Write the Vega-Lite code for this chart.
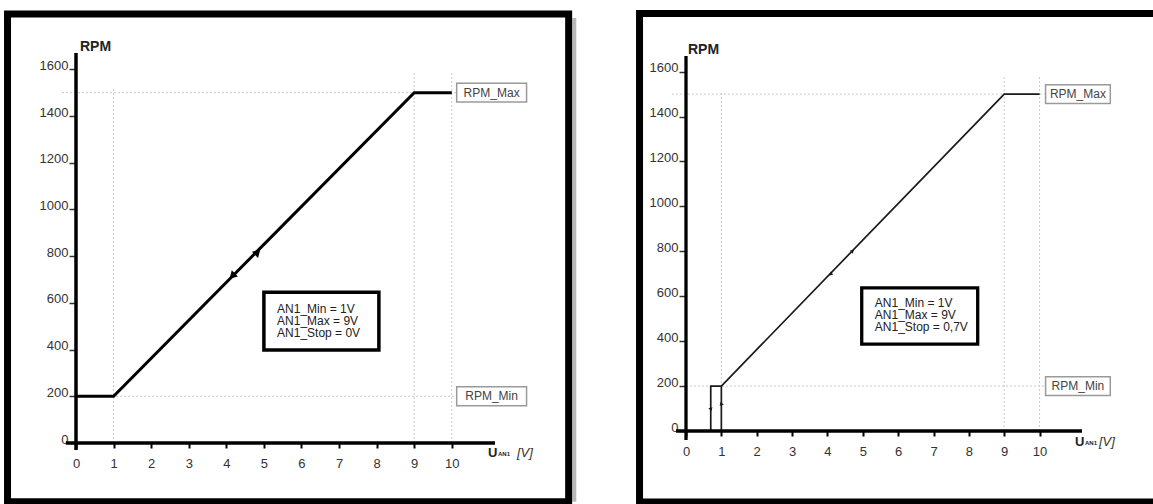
{
  "$schema": "https://vega.github.io/schema/vega-lite/v6.json",
  "background": "white",
  "padding": {"left": 4, "top": 9, "right": 0, "bottom": 0},
  "spacing": 59,
  "config": {
    "view": {"stroke": null},
    "font": "Liberation Sans",
    "axis": {"grid": false, "domain": false, "zindex": 1, "labelFont": "Liberation Sans", "labelFontSize": 13, "labelColor": "#333", "titleOpacity": 0, "labelOverlap": false, "labelFlush": false},
    "axisX": {"tickSize": 5, "tickWidth": 2, "tickColor": "black", "labelPadding": 9},
    "axisY": {"tickSize": 7, "tickWidth": 1.5, "tickColor": "#333", "labelBaseline": "alphabetic", "labelPadding": 1}
  },
  "datasets": {
    "one": [{"k": 1}],
    "curve": [
      {"panel": "L", "seg": "a", "i": 0, "v": 0, "rpm": 200},
      {"panel": "L", "seg": "a", "i": 1, "v": 1, "rpm": 200},
      {"panel": "L", "seg": "a", "i": 2, "v": 9, "rpm": 1500},
      {"panel": "L", "seg": "a", "i": 3, "v": 10, "rpm": 1500},
      {"panel": "R", "seg": "a", "i": 0, "v": 0.7, "rpm": 0},
      {"panel": "R", "seg": "a", "i": 1, "v": 0.7, "rpm": 200},
      {"panel": "R", "seg": "a", "i": 2, "v": 1, "rpm": 200},
      {"panel": "R", "seg": "a", "i": 3, "v": 9, "rpm": 1500},
      {"panel": "R", "seg": "a", "i": 4, "v": 10, "rpm": 1500},
      {"panel": "R", "seg": "b", "i": 0, "v": 1, "rpm": 0},
      {"panel": "R", "seg": "b", "i": 1, "v": 1, "rpm": 200}
    ],
    "arrows": [
      {"panel": "L", "v": 4.81, "rpm": 813, "dir": "ur"},
      {"panel": "L", "v": 4.18, "rpm": 719, "dir": "dl"},
      {"panel": "R", "v": 4.7, "rpm": 800, "dir": "ur"},
      {"panel": "R", "v": 4.1, "rpm": 700, "dir": "dl"},
      {"panel": "R", "v": 0.7, "rpm": 98, "dir": "u"},
      {"panel": "R", "v": 1, "rpm": 120, "dir": "d"}
    ],
    "grid": [
      {"panel": "L", "v": 1, "rpm": 0, "v2": 1, "rpm2": 1523},
      {"panel": "L", "v": 9, "rpm": 0, "v2": 9, "rpm2": 1583},
      {"panel": "L", "v": 10, "rpm": 0, "v2": 10, "rpm2": 1583},
      {"panel": "L", "v": -0.37, "rpm": 1500, "v2": 10.15, "rpm2": 1500},
      {"panel": "L", "v": 0, "rpm": 200, "v2": 10.15, "rpm2": 200},
      {"panel": "R", "v": 1, "rpm": 0, "v2": 1, "rpm2": 1514},
      {"panel": "R", "v": 9, "rpm": 0, "v2": 9, "rpm2": 1580},
      {"panel": "R", "v": 10, "rpm": 0, "v2": 10, "rpm2": 1580},
      {"panel": "R", "v": -0.4, "rpm": 1500, "v2": 10.17, "rpm2": 1500},
      {"panel": "R", "v": 0, "rpm": 200, "v2": 10.17, "rpm2": 200}
    ],
    "levels": [
      {"panel": "L", "label": "RPM_Max", "rpm": 1500},
      {"panel": "L", "label": "RPM_Min", "rpm": 200},
      {"panel": "R", "label": "RPM_Max", "rpm": 1500},
      {"panel": "R", "label": "RPM_Min", "rpm": 200}
    ],
    "info": [
      {"panel": "L", "text": "AN1_Min = 1V\nAN1_Max = 9V\nAN1_Stop = 0V"},
      {"panel": "R", "text": "AN1_Min = 1V\nAN1_Max = 9V\nAN1_Stop = 0,7V"}
    ]
  },
  "hconcat": [
    {
      "width": 419,
      "height": 390,
      "layer": [
        {
          "data": {"name": "one"},
          "mark": {"type": "rule", "color": "#9a9a9a", "strokeWidth": 4, "opacity": 0.7, "clip": false},
          "encoding": {
            "x": {"datum": 13.26, "type": "quantitative", "scale": {"domain": [0, 11.15], "nice": false, "zero": false}, "title": null},
            "y": {"datum": -252, "type": "quantitative", "scale": {"domain": [0, 1670], "nice": false, "zero": false}, "title": null},
            "y2": {"datum": 1820}
          }
        },
        {
          "data": {"name": "one"},
          "mark": {"type": "rect", "fillOpacity": 0, "stroke": "black", "strokeWidth": 7, "clip": false},
          "encoding": {
            "x": {"datum": -1.822, "type": "quantitative", "scale": {"domain": [0, 11.15], "nice": false, "zero": false}, "title": null},
            "x2": {"datum": 13.11},
            "y": {"datum": -252, "type": "quantitative", "scale": {"domain": [0, 1670], "nice": false, "zero": false}, "title": null},
            "y2": {"datum": 1837}
          }
        },
        {
          "data": {"name": "grid"},
          "transform": [{"filter": "datum.panel === 'L'"}],
          "mark": {"type": "rule", "color": "#c8c8c8", "strokeWidth": 1, "strokeDash": [2, 2], "clip": false},
          "encoding": {
            "x": {"field": "v", "type": "quantitative", "scale": {"domain": [0, 11.15], "nice": false, "zero": false}, "title": null},
            "x2": {"field": "v2"},
            "y": {"field": "rpm", "type": "quantitative", "scale": {"domain": [0, 1670], "nice": false, "zero": false}, "title": null},
            "y2": {"field": "rpm2"}
          }
        },
        {
          "data": {"name": "curve"},
          "transform": [{"filter": "datum.panel === 'L'"}],
          "mark": {"type": "line", "color": "black", "strokeWidth": 3, "clip": false},
          "encoding": {
            "x": {"field": "v", "type": "quantitative", "scale": {"domain": [0, 11.15], "nice": false, "zero": false}, "title": null,
              "axis": {"values": [0, 1, 2, 3, 4, 5, 6, 7, 8, 9, 10], "tickCount": 12, "format": "d", "labelOverlap": false}},
            "y": {"field": "rpm", "type": "quantitative", "scale": {"domain": [0, 1670], "nice": false, "zero": false}, "title": null,
              "axis": {"values": [0, 200, 400, 600, 800, 1000, 1200, 1400, 1600], "tickCount": 10, "format": "d", "labelOverlap": false}},
            "detail": {"field": "seg"},
            "order": {"field": "i"}
          }
        },
        {
          "data": {"name": "one"},
          "mark": {"type": "rule", "color": "black", "strokeWidth": 3.5, "clip": false},
          "encoding": {
            "x": {"datum": -0.27, "type": "quantitative", "scale": {"domain": [0, 11.15], "nice": false, "zero": false}, "title": null},
            "x2": {"datum": 11.15},
            "y": {"datum": 0, "type": "quantitative", "scale": {"domain": [0, 1670], "nice": false, "zero": false}, "title": null}
          }
        },
        {
          "data": {"name": "one"},
          "mark": {"type": "rule", "color": "black", "strokeWidth": 3.5, "clip": false},
          "encoding": {
            "x": {"datum": 0, "type": "quantitative", "scale": {"domain": [0, 11.15], "nice": false, "zero": false}, "title": null},
            "y": {"datum": -30, "type": "quantitative", "scale": {"domain": [0, 1670], "nice": false, "zero": false}, "title": null},
            "y2": {"datum": 1670}
          }
        },
        {
          "data": {"name": "arrows"},
          "transform": [{"filter": "datum.panel === 'L'"}],
          "mark": {"type": "point", "shape": "triangle", "filled": true, "color": "black", "size": 75, "opacity": 1},
          "encoding": {
            "x": {"field": "v", "type": "quantitative", "scale": {"domain": [0, 11.15], "nice": false, "zero": false}, "title": null},
            "y": {"field": "rpm", "type": "quantitative", "scale": {"domain": [0, 1670], "nice": false, "zero": false}, "title": null},
            "angle": {"field": "dir", "type": "nominal", "scale": {"domain": ["ur", "dl", "u", "d"], "range": [45, 225, 0, 180]}, "legend": null}
          }
        },
        {
          "data": {"name": "one"},
          "mark": {"type": "rect", "fill": "white", "stroke": "#9a9a9a", "strokeWidth": 1.5, "clip": false},
          "encoding": {
            "x": {"datum": 10.13, "type": "quantitative", "scale": {"domain": [0, 11.15], "nice": false, "zero": false}, "title": null},
            "x2": {"datum": 11.99},
            "y": {"datum": 1460, "type": "quantitative", "scale": {"domain": [0, 1670], "nice": false, "zero": false}, "title": null},
            "y2": {"datum": 1541}
          }
        },
        {
          "data": {"name": "one"},
          "mark": {"type": "rect", "fill": "white", "stroke": "#9a9a9a", "strokeWidth": 1.5, "clip": false},
          "encoding": {
            "x": {"datum": 10.13, "type": "quantitative", "scale": {"domain": [0, 11.15], "nice": false, "zero": false}, "title": null},
            "x2": {"datum": 11.99},
            "y": {"datum": 160, "type": "quantitative", "scale": {"domain": [0, 1670], "nice": false, "zero": false}, "title": null},
            "y2": {"datum": 241}
          }
        },
        {
          "data": {"name": "levels"},
          "transform": [{"filter": "datum.panel === 'L'"}],
          "mark": {"type": "text", "fontSize": 12, "color": "#444", "align": "center", "baseline": "middle", "clip": false},
          "encoding": {
            "x": {"datum": 11.06, "type": "quantitative", "scale": {"domain": [0, 11.15], "nice": false, "zero": false}, "title": null},
            "y": {"field": "rpm", "type": "quantitative", "scale": {"domain": [0, 1670], "nice": false, "zero": false}, "title": null},
            "text": {"field": "label"}
          }
        },
        {
          "data": {"name": "one"},
          "mark": {"type": "rect", "fill": "white", "stroke": "black", "strokeWidth": 3.5, "clip": false},
          "encoding": {
            "x": {"datum": 5.0, "type": "quantitative", "scale": {"domain": [0, 11.15], "nice": false, "zero": false}, "title": null},
            "x2": {"datum": 8.06},
            "y": {"datum": 398, "type": "quantitative", "scale": {"domain": [0, 1670], "nice": false, "zero": false}, "title": null},
            "y2": {"datum": 646}
          }
        },
        {
          "data": {"name": "info"},
          "transform": [{"filter": "datum.panel === 'L'"}],
          "mark": {"type": "text", "fontSize": 12, "color": "#222", "align": "left", "baseline": "middle", "lineBreak": "\n", "lineHeight": 12, "clip": false},
          "encoding": {
            "x": {"datum": 5.35, "type": "quantitative", "scale": {"domain": [0, 11.15], "nice": false, "zero": false}, "title": null},
            "y": {"datum": 573, "type": "quantitative", "scale": {"domain": [0, 1670], "nice": false, "zero": false}, "title": null},
            "text": {"field": "text"}
          }
        },
        {
          "data": {"name": "one"},
          "mark": {"type": "text", "text": "RPM", "fontSize": 14, "fontWeight": "bold", "color": "#222", "align": "left", "baseline": "alphabetic", "dx": 4, "dy": -2, "clip": false},
          "encoding": {
            "x": {"datum": 0, "type": "quantitative", "scale": {"domain": [0, 11.15], "nice": false, "zero": false}, "title": null},
            "y": {"datum": 1670, "type": "quantitative", "scale": {"domain": [0, 1670], "nice": false, "zero": false}, "title": null}
          }
        },
        {
          "data": {"name": "one"},
          "mark": {"type": "text", "text": "U", "fontSize": 13, "fontWeight": "bold", "color": "#222", "align": "left", "baseline": "alphabetic", "dx": -7, "dy": 14, "clip": false},
          "encoding": {
            "x": {"datum": 11.15, "type": "quantitative", "scale": {"domain": [0, 11.15], "nice": false, "zero": false}, "title": null},
            "y": {"datum": 0, "type": "quantitative", "scale": {"domain": [0, 1670], "nice": false, "zero": false}, "title": null}
          }
        },
        {
          "data": {"name": "one"},
          "mark": {"type": "text", "text": "AN1", "fontSize": 6, "fontWeight": "bold", "color": "#222", "align": "left", "baseline": "alphabetic", "dx": 3, "dy": 13, "clip": false},
          "encoding": {
            "x": {"datum": 11.15, "type": "quantitative", "scale": {"domain": [0, 11.15], "nice": false, "zero": false}, "title": null},
            "y": {"datum": 0, "type": "quantitative", "scale": {"domain": [0, 1670], "nice": false, "zero": false}, "title": null}
          }
        },
        {
          "data": {"name": "one"},
          "mark": {"type": "text", "text": "[V]", "fontSize": 13, "fontStyle": "italic", "color": "#333", "align": "left", "baseline": "alphabetic", "dx": 22, "dy": 14, "clip": false},
          "encoding": {
            "x": {"datum": 11.15, "type": "quantitative", "scale": {"domain": [0, 11.15], "nice": false, "zero": false}, "title": null},
            "y": {"datum": 0, "type": "quantitative", "scale": {"domain": [0, 1670], "nice": false, "zero": false}, "title": null}
          }
        }
      ]
    },
    {
      "width": 396,
      "height": 378,
      "layer": [
        {
          "data": {"name": "one"},
          "mark": {"type": "rect", "fillOpacity": 0, "stroke": "black", "strokeWidth": 7, "clip": false},
          "encoding": {
            "x": {"datum": -1.314, "type": "quantitative", "scale": {"domain": [0, 11.2], "nice": false, "zero": false}, "title": null},
            "x2": {"datum": 13.4},
            "y": {"datum": -316, "type": "quantitative", "scale": {"domain": [0, 1683], "nice": false, "zero": false}, "title": null},
            "y2": {"datum": 1859}
          }
        },
        {
          "data": {"name": "grid"},
          "transform": [{"filter": "datum.panel === 'R'"}],
          "mark": {"type": "rule", "color": "#c8c8c8", "strokeWidth": 1, "strokeDash": [2, 2], "clip": false},
          "encoding": {
            "x": {"field": "v", "type": "quantitative", "scale": {"domain": [0, 11.2], "nice": false, "zero": false}, "title": null},
            "x2": {"field": "v2"},
            "y": {"field": "rpm", "type": "quantitative", "scale": {"domain": [0, 1683], "nice": false, "zero": false}, "title": null},
            "y2": {"field": "rpm2"}
          }
        },
        {
          "data": {"name": "curve"},
          "transform": [{"filter": "datum.panel === 'R'"}],
          "mark": {"type": "line", "color": "#1a1a1a", "strokeWidth": 1.7, "clip": false},
          "encoding": {
            "x": {"field": "v", "type": "quantitative", "scale": {"domain": [0, 11.2], "nice": false, "zero": false}, "title": null,
              "axis": {"values": [0, 1, 2, 3, 4, 5, 6, 7, 8, 9, 10], "tickCount": 12, "format": "d", "labelOverlap": false}},
            "y": {"field": "rpm", "type": "quantitative", "scale": {"domain": [0, 1683], "nice": false, "zero": false}, "title": null,
              "axis": {"values": [0, 200, 400, 600, 800, 1000, 1200, 1400, 1600], "tickCount": 10, "format": "d", "labelOverlap": false}},
            "detail": {"field": "seg"},
            "order": {"field": "i"}
          }
        },
        {
          "data": {"name": "one"},
          "mark": {"type": "rule", "color": "black", "strokeWidth": 3.3, "clip": false},
          "encoding": {
            "x": {"datum": -0.28, "type": "quantitative", "scale": {"domain": [0, 11.2], "nice": false, "zero": false}, "title": null},
            "x2": {"datum": 11.2},
            "y": {"datum": 0, "type": "quantitative", "scale": {"domain": [0, 1683], "nice": false, "zero": false}, "title": null}
          }
        },
        {
          "data": {"name": "one"},
          "mark": {"type": "rule", "color": "black", "strokeWidth": 3.3, "clip": false},
          "encoding": {
            "x": {"datum": 0, "type": "quantitative", "scale": {"domain": [0, 11.2], "nice": false, "zero": false}, "title": null},
            "y": {"datum": -40, "type": "quantitative", "scale": {"domain": [0, 1683], "nice": false, "zero": false}, "title": null},
            "y2": {"datum": 1670}
          }
        },
        {
          "data": {"name": "arrows"},
          "transform": [{"filter": "datum.panel === 'R'"}],
          "mark": {"type": "point", "shape": "triangle", "filled": true, "color": "#1a1a1a", "size": 18, "opacity": 1},
          "encoding": {
            "x": {"field": "v", "type": "quantitative", "scale": {"domain": [0, 11.2], "nice": false, "zero": false}, "title": null},
            "y": {"field": "rpm", "type": "quantitative", "scale": {"domain": [0, 1683], "nice": false, "zero": false}, "title": null},
            "angle": {"field": "dir", "type": "nominal", "scale": {"domain": ["ur", "dl", "u", "d"], "range": [45, 225, 0, 180]}, "legend": null}
          }
        },
        {
          "data": {"name": "one"},
          "mark": {"type": "rect", "fill": "white", "stroke": "#9a9a9a", "strokeWidth": 1.5, "clip": false},
          "encoding": {
            "x": {"datum": 10.17, "type": "quantitative", "scale": {"domain": [0, 11.2], "nice": false, "zero": false}, "title": null},
            "x2": {"datum": 12.0},
            "y": {"datum": 1458, "type": "quantitative", "scale": {"domain": [0, 1683], "nice": false, "zero": false}, "title": null},
            "y2": {"datum": 1542}
          }
        },
        {
          "data": {"name": "one"},
          "mark": {"type": "rect", "fill": "white", "stroke": "#9a9a9a", "strokeWidth": 1.5, "clip": false},
          "encoding": {
            "x": {"datum": 10.17, "type": "quantitative", "scale": {"domain": [0, 11.2], "nice": false, "zero": false}, "title": null},
            "x2": {"datum": 12.0},
            "y": {"datum": 158, "type": "quantitative", "scale": {"domain": [0, 1683], "nice": false, "zero": false}, "title": null},
            "y2": {"datum": 242}
          }
        },
        {
          "data": {"name": "levels"},
          "transform": [{"filter": "datum.panel === 'R'"}],
          "mark": {"type": "text", "fontSize": 12, "color": "#444", "align": "center", "baseline": "middle", "clip": false},
          "encoding": {
            "x": {"datum": 11.085, "type": "quantitative", "scale": {"domain": [0, 11.2], "nice": false, "zero": false}, "title": null},
            "y": {"field": "rpm", "type": "quantitative", "scale": {"domain": [0, 1683], "nice": false, "zero": false}, "title": null},
            "text": {"field": "label"}
          }
        },
        {
          "data": {"name": "one"},
          "mark": {"type": "rect", "fill": "white", "stroke": "black", "strokeWidth": 3.3, "clip": false},
          "encoding": {
            "x": {"datum": 4.97, "type": "quantitative", "scale": {"domain": [0, 11.2], "nice": false, "zero": false}, "title": null},
            "x2": {"datum": 8.25},
            "y": {"datum": 387, "type": "quantitative", "scale": {"domain": [0, 1683], "nice": false, "zero": false}, "title": null},
            "y2": {"datum": 637}
          }
        },
        {
          "data": {"name": "info"},
          "transform": [{"filter": "datum.panel === 'R'"}],
          "mark": {"type": "text", "fontSize": 12, "color": "#222", "align": "left", "baseline": "middle", "lineBreak": "\n", "lineHeight": 12, "clip": false},
          "encoding": {
            "x": {"datum": 5.34, "type": "quantitative", "scale": {"domain": [0, 11.2], "nice": false, "zero": false}, "title": null},
            "y": {"datum": 570, "type": "quantitative", "scale": {"domain": [0, 1683], "nice": false, "zero": false}, "title": null},
            "text": {"field": "text"}
          }
        },
        {
          "data": {"name": "one"},
          "mark": {"type": "text", "text": "RPM", "fontSize": 14, "fontWeight": "bold", "color": "#222", "align": "left", "baseline": "alphabetic", "dx": 2, "dy": 1, "clip": false},
          "encoding": {
            "x": {"datum": 0, "type": "quantitative", "scale": {"domain": [0, 11.2], "nice": false, "zero": false}, "title": null},
            "y": {"datum": 1683, "type": "quantitative", "scale": {"domain": [0, 1683], "nice": false, "zero": false}, "title": null}
          }
        },
        {
          "data": {"name": "one"},
          "mark": {"type": "text", "text": "U", "fontSize": 13, "fontWeight": "bold", "color": "#222", "align": "left", "baseline": "alphabetic", "dx": -7, "dy": 15, "clip": false},
          "encoding": {
            "x": {"datum": 11.2, "type": "quantitative", "scale": {"domain": [0, 11.2], "nice": false, "zero": false}, "title": null},
            "y": {"datum": 0, "type": "quantitative", "scale": {"domain": [0, 1683], "nice": false, "zero": false}, "title": null}
          }
        },
        {
          "data": {"name": "one"},
          "mark": {"type": "text", "text": "AN1", "fontSize": 6, "fontWeight": "bold", "color": "#222", "align": "left", "baseline": "alphabetic", "dx": 3, "dy": 14, "clip": false},
          "encoding": {
            "x": {"datum": 11.2, "type": "quantitative", "scale": {"domain": [0, 11.2], "nice": false, "zero": false}, "title": null},
            "y": {"datum": 0, "type": "quantitative", "scale": {"domain": [0, 1683], "nice": false, "zero": false}, "title": null}
          }
        },
        {
          "data": {"name": "one"},
          "mark": {"type": "text", "text": "[V]", "fontSize": 13, "fontStyle": "italic", "color": "#333", "align": "left", "baseline": "alphabetic", "dx": 17, "dy": 15, "clip": false},
          "encoding": {
            "x": {"datum": 11.2, "type": "quantitative", "scale": {"domain": [0, 11.2], "nice": false, "zero": false}, "title": null},
            "y": {"datum": 0, "type": "quantitative", "scale": {"domain": [0, 1683], "nice": false, "zero": false}, "title": null}
          }
        }
      ]
    }
  ]
}
